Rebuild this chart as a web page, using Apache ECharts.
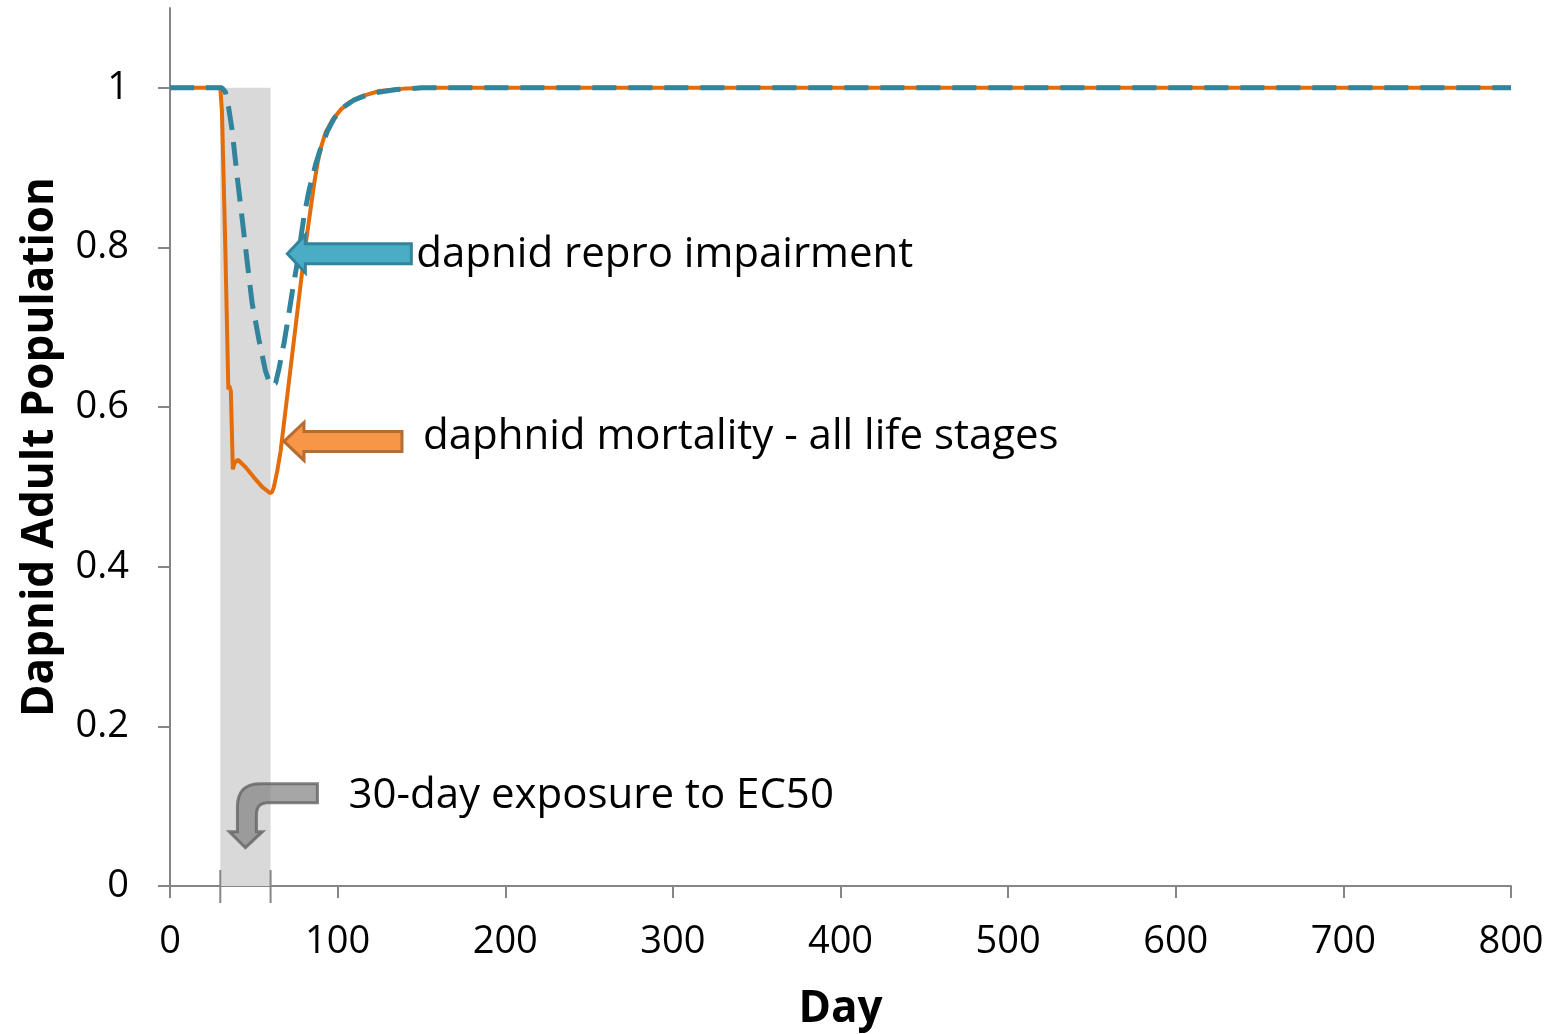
<!DOCTYPE html>
<html>
<head>
<meta charset="utf-8">
<script src="https://cdn.jsdelivr.net/npm/echarts@6/dist/echarts.min.js"></script>
<style>
  html, body { margin: 0; padding: 0; background: #fff; }
  #chart { width: 1552px; height: 1034px; }
</style>
</head>
<body>
<div id="chart"></div>
<script>
// daphnid mortality - all life stages (solid orange)
var mortalityDays = [0, 30, 31, 33, 34.8, 35.3, 36.3, 37.5, 38.5, 40.5, 45, 50, 55, 59.8, 61, 62, 64, 66, 68, 70, 72, 74, 76, 78, 80, 82, 84, 86, 88, 90, 93, 97, 102, 107, 115, 125, 140, 160, 800]
var mortalityValues = [1, 1, 0.97, 0.8, 0.622, 0.627, 0.62, 0.522, 0.53, 0.534, 0.525, 0.512, 0.5, 0.492, 0.494, 0.5, 0.52, 0.545, 0.58, 0.615, 0.65, 0.685, 0.72, 0.755, 0.79, 0.82, 0.85, 0.88, 0.905, 0.925, 0.945, 0.96, 0.973, 0.982, 0.99, 0.996, 0.999, 1, 1]
// dapnid repro impairment (dashed teal)
var reproDays = [0, 31, 33, 35, 37, 40, 43, 46, 49, 53, 57, 60, 61, 63, 65, 68, 70, 73, 76, 80, 83, 87, 90, 94, 98, 103, 110, 120, 135, 150, 800]
var reproValues = [1, 1, 0.995, 0.975, 0.948, 0.89, 0.837, 0.783, 0.73, 0.685, 0.645, 0.627, 0.625, 0.63, 0.648, 0.68, 0.705, 0.745, 0.782, 0.84, 0.872, 0.905, 0.925, 0.946, 0.962, 0.975, 0.985, 0.993, 0.998, 1, 1]
// 30-day exposure window
var exposure = [30, 60]
var yTicks = [0, 0.2, 0.4, 0.6, 0.8, 1]

var font = 'Open Sans'
var chart = echarts.init(document.getElementById('chart'))

function zip(xs, ys) {
  return xs.map(function (x, i) { return [x, ys[i]] })
}

var option = {
  animation: false,
  grid: { left: 170, right: 41, top: 8, bottom: 148, outerBoundsMode: 'none', containLabel: false },
  xAxis: {
    type: 'value',
    min: 0,
    max: 800,
    interval: 100,
    name: 'Day',
    nameLocation: 'middle',
    nameGap: 101,
    nameTextStyle: { fontFamily: font, fontSize: 44, fontWeight: 'bold', color: '#000' },
    axisLine: { lineStyle: { color: '#868686', width: 2 } },
    axisTick: { length: 12, lineStyle: { color: '#868686', width: 2 } },
    axisLabel: { margin: 37, fontFamily: font, fontSize: 38, color: '#000' },
    splitLine: { show: false },
  },
  yAxis: {
    type: 'value',
    min: 0,
    max: 1.1,
    name: 'Dapnid Adult Population',
    nameLocation: 'middle',
    nameGap: 108,
    nameTextStyle: { fontFamily: font, fontSize: 44, fontWeight: 'bold', color: '#000' },
    axisLine: { show: true, lineStyle: { color: '#868686', width: 2 } },
    axisTick: { show: true, length: 12, customValues: yTicks, lineStyle: { color: '#868686', width: 2 } },
    axisLabel: { margin: 41, fontFamily: font, fontSize: 38, color: '#000', customValues: yTicks },
    splitLine: { show: false },
  },
  series: [
    {
      name: 'daphnid mortality - all life stages',
      type: 'line',
      showSymbol: false,
      data: zip(mortalityDays, mortalityValues),
      lineStyle: { color: '#e46c0a', width: 4 },
      z: 2,
      markArea: {
        silent: true,
        itemStyle: { color: '#d9d9d9' },
        data: [[{ xAxis: exposure[0], yAxis: 0 }, { xAxis: exposure[1], yAxis: 1 }]],
      },
    },
    {
      name: 'dapnid repro impairment',
      type: 'line',
      showSymbol: false,
      data: zip(reproDays, reproValues),
      lineStyle: { color: '#31849b', width: 5, type: [24, 12] },
      z: 3,
    },
  ],
}
chart.setOption(option)

// annotations placed from data coordinates
function px(pt) { return chart.convertToPixel({ gridIndex: 0 }, pt) }
var blueTip = px([70, 0.792])
var orangeTip = px([68, 0.557])
var grayTip = px([45, 0.048])
var t30 = px([exposure[0], 0])
var t60 = px([exposure[1], 0])

// quadratic curve points for the bent arrow outline
function quad(p0, c, p1) {
  var out = []
  for (var i = 1; i <= 8; i++) {
    var t = i / 8
    out.push([
      (1 - t) * (1 - t) * p0[0] + 2 * (1 - t) * t * c[0] + t * t * p1[0],
      (1 - t) * (1 - t) * p0[1] + 2 * (1 - t) * t * c[1] + t * t * p1[1],
    ])
  }
  return out
}
var bentArrow = [[72, -64], [72, -45], [23, -45]]
  .concat(quad([23, -45], [11, -45], [11, -33]))
  .concat([[11, -16], [17, -16], [0, 0], [-16, -16], [-8, -16], [-8, -41]])
  .concat(quad([-8, -41], [-8, -64], [15, -64]))

var textStyle = { fontFamily: font, fontSize: 42, fill: '#000' }
var graphic = [
  {
    type: 'polygon', x: blueTip[0], y: blueTip[1], z: 10,
    shape: { points: [[0, 0], [18, -19], [18, -10], [124, -10], [124, 10], [18, 10], [18, 19]] },
    style: { fill: '#4bacc6', stroke: '#31849b', lineWidth: 3 },
  },
  {
    type: 'text', x: blueTip[0] + 129, y: blueTip[1] + 1, z: 10,
    style: Object.assign({ text: 'dapnid repro impairment', verticalAlign: 'middle' }, textStyle),
  },
  {
    type: 'polygon', x: orangeTip[0], y: orangeTip[1], z: 10,
    shape: { points: [[0, 0], [20, -19], [20, -10], [118, -10], [118, 10], [20, 10], [20, 19]] },
    style: { fill: '#f79646', stroke: '#b66d31', lineWidth: 3 },
  },
  {
    type: 'text', x: orangeTip[0] + 139, y: orangeTip[1] - 4, z: 10,
    style: Object.assign({ text: 'daphnid mortality - all life stages', verticalAlign: 'middle' }, textStyle),
  },
  {
    type: 'polygon', x: grayTip[0], y: grayTip[1], z: 10,
    shape: { points: bentArrow },
    style: { fill: 'rgba(128,128,128,0.7)', stroke: 'rgba(100,100,100,0.8)', lineWidth: 3 },
  },
  {
    type: 'text', x: grayTip[0] + 103, y: grayTip[1] - 52, z: 10,
    style: Object.assign({ text: '30-day exposure to EC50', verticalAlign: 'middle' }, textStyle),
  },
  {
    type: 'line', z: 10,
    shape: { x1: t30[0], y1: t30[1] - 16, x2: t30[0], y2: t30[1] + 17 },
    style: { stroke: '#868686', lineWidth: 2 },
  },
  {
    type: 'line', z: 10,
    shape: { x1: t60[0], y1: t60[1] - 16, x2: t60[0], y2: t60[1] + 17 },
    style: { stroke: '#868686', lineWidth: 2 },
  },
]
chart.setOption({ graphic: graphic })
</script>
</body>
</html>
